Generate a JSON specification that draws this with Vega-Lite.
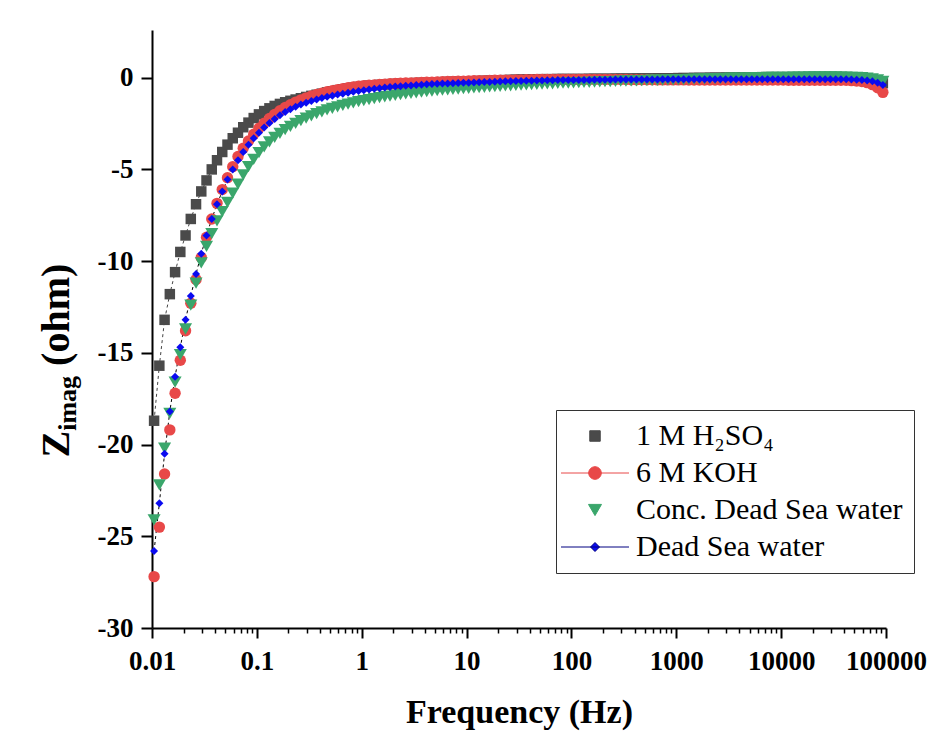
{
"$schema":"https://vega.github.io/schema/vega-lite/v6.json",
"width":734,"height":598,
"autosize":{"type":"none"},
"padding":{"left":152,"top":30,"right":58,"bottom":114},
"background":"white",
"config":{"view":{"stroke":null},"font":"Liberation Serif",
"axis":{"labelFont":"Liberation Serif","labelFontWeight":"bold","labelFontSize":27,"labelColor":"#000","tickColor":"#000","domainColor":"#000","domainWidth":2,"tickWidth":2,"grid":false,"titleFont":"Liberation Serif","titleFontWeight":"bold","titleColor":"#000"},
"legend":{"orient":"none","legendX":404,"legendY":380,"strokeColor":"#333","fillColor":"white","padding":11,"rowPadding":7,"labelFont":"Liberation Serif","labelFontSize":30,"labelFontWeight":"normal","labelColor":"#000","labelLimit":400,"symbolOffset":13,"labelOffset":26,"symbolSize":400,"symbolStrokeWidth":1,"symbolOpacity":1}},
"datasets":{
"A":[{"f":0.01047,"z":-18.7},{"f":0.01175,"z":-15.7},{"f":0.01318,"z":-13.2},{"f":0.01479,"z":-11.8},{"f":0.0166,"z":-10.6},{"f":0.01862,"z":-9.5},{"f":0.02089,"z":-8.6},{"f":0.02344,"z":-7.7},{"f":0.0263,"z":-6.9},{"f":0.02951,"z":-6.2},{"f":0.03311,"z":-5.6},{"f":0.03715,"z":-5.0},{"f":0.04169,"z":-4.5},{"f":0.04677,"z":-4.05},{"f":0.05248,"z":-3.65},{"f":0.05888,"z":-3.3},{"f":0.06607,"z":-3.0},{"f":0.07413,"z":-2.7},{"f":0.08318,"z":-2.45},{"f":0.09333,"z":-2.2},
{"f":0.1047,"z":-2.0},{"f":0.1175,"z":-1.82},{"f":0.1318,"z":-1.67},{"f":0.1479,"z":-1.54},{"f":0.166,"z":-1.43},{"f":0.1862,"z":-1.34},{"f":0.2089,"z":-1.26},{"f":0.2344,"z":-1.19},{"f":0.263,"z":-1.12},{"f":0.2951,"z":-1.05},{"f":0.3311,"z":-0.99},{"f":0.3715,"z":-0.93},{"f":0.4169,"z":-0.87},{"f":0.4677,"z":-0.8},{"f":0.5248,"z":-0.74},{"f":0.5888,"z":-0.68},{"f":0.6607,"z":-0.63},{"f":0.7413,"z":-0.58},{"f":0.8318,"z":-0.54},{"f":0.9333,"z":-0.5},
{"f":1.047,"z":-0.46},{"f":1.175,"z":-0.43},{"f":1.318,"z":-0.41},{"f":1.479,"z":-0.39},{"f":1.66,"z":-0.37},{"f":1.862,"z":-0.35},{"f":2.089,"z":-0.34},{"f":2.344,"z":-0.32},{"f":2.63,"z":-0.31},{"f":2.951,"z":-0.3},{"f":3.311,"z":-0.29},{"f":3.715,"z":-0.28},{"f":4.169,"z":-0.27},{"f":4.677,"z":-0.26},{"f":5.248,"z":-0.25},{"f":5.888,"z":-0.24},{"f":6.607,"z":-0.23},{"f":7.413,"z":-0.22},{"f":8.318,"z":-0.21},{"f":9.333,"z":-0.21},
{"f":10.47,"z":-0.2},{"f":11.75,"z":-0.19},{"f":13.18,"z":-0.18},{"f":14.79,"z":-0.17},{"f":16.6,"z":-0.16},{"f":18.62,"z":-0.15},{"f":20.89,"z":-0.14},{"f":23.44,"z":-0.13},{"f":26.3,"z":-0.12},{"f":29.51,"z":-0.11},{"f":33.11,"z":-0.1},{"f":37.15,"z":-0.1},{"f":41.69,"z":-0.09},{"f":46.77,"z":-0.09},{"f":52.48,"z":-0.08},{"f":58.88,"z":-0.08},{"f":66.07,"z":-0.08},{"f":74.13,"z":-0.07},{"f":83.18,"z":-0.07},{"f":93.33,"z":-0.07},
{"f":104.7,"z":-0.07},{"f":117.5,"z":-0.07},{"f":131.8,"z":-0.07},{"f":147.9,"z":-0.06},{"f":166,"z":-0.06},{"f":186.2,"z":-0.06},{"f":208.9,"z":-0.06},{"f":234.4,"z":-0.06},{"f":263,"z":-0.05},{"f":295.1,"z":-0.05},{"f":331.1,"z":-0.05},{"f":371.5,"z":-0.05},{"f":416.9,"z":-0.04},{"f":467.7,"z":-0.04},{"f":524.8,"z":-0.04},{"f":588.8,"z":-0.04},{"f":660.7,"z":-0.03},{"f":741.3,"z":-0.03},{"f":831.8,"z":-0.03},{"f":933.3,"z":-0.03},
{"f":1047,"z":-0.02},{"f":1175,"z":-0.02},{"f":1318,"z":-0.02},{"f":1479,"z":-0.01},{"f":1660,"z":-0.01},{"f":1862,"z":-0.01},{"f":2089,"z":0},{"f":2344,"z":0},{"f":2630,"z":0},{"f":2951,"z":0.01},{"f":3311,"z":0.01},{"f":3715,"z":0.01},{"f":4169,"z":0.02},{"f":4677,"z":0.02},{"f":5248,"z":0.02},{"f":5888,"z":0.02},{"f":6607,"z":0.03},{"f":7413,"z":0.03},{"f":8318,"z":0.03},{"f":9333,"z":0.03},
{"f":10470,"z":0.03},{"f":11750,"z":0.03},{"f":13180,"z":0.03},{"f":14790,"z":0.03},{"f":16600,"z":0.03},{"f":18620,"z":0.03},{"f":20890,"z":0.03},{"f":23440,"z":0.03},{"f":26300,"z":0.03},{"f":29510,"z":0.03},{"f":33110,"z":0.03},{"f":37150,"z":0.03},{"f":41690,"z":0.03},{"f":46770,"z":0.02},{"f":52480,"z":0.01},{"f":58880,"z":-0.01},{"f":66070,"z":-0.05},{"f":74130,"z":-0.1},{"f":83180,"z":-0.18},{"f":93330,"z":-0.3}],
"B":[{"f":0.01047,"z":-27.2},{"f":0.01175,"z":-24.5},{"f":0.01318,"z":-21.6},{"f":0.01479,"z":-19.2},{"f":0.0166,"z":-17.2},{"f":0.01862,"z":-15.4},{"f":0.02089,"z":-13.8},{"f":0.02344,"z":-12.3},{"f":0.0263,"z":-11.0},{"f":0.02951,"z":-9.8},{"f":0.03311,"z":-8.7},{"f":0.03715,"z":-7.7},{"f":0.04169,"z":-6.85},{"f":0.04677,"z":-6.1},{"f":0.05248,"z":-5.45},{"f":0.05888,"z":-4.85},{"f":0.06607,"z":-4.3},{"f":0.07413,"z":-3.85},{"f":0.08318,"z":-3.45},{"f":0.09333,"z":-3.08},
{"f":0.1047,"z":-2.76},{"f":0.1175,"z":-2.48},{"f":0.1318,"z":-2.22},{"f":0.1479,"z":-2.0},{"f":0.166,"z":-1.8},{"f":0.1862,"z":-1.62},{"f":0.2089,"z":-1.47},{"f":0.2344,"z":-1.33},{"f":0.263,"z":-1.21},{"f":0.2951,"z":-1.1},{"f":0.3311,"z":-1.0},{"f":0.3715,"z":-0.92},{"f":0.4169,"z":-0.84},{"f":0.4677,"z":-0.77},{"f":0.5248,"z":-0.71},{"f":0.5888,"z":-0.65},{"f":0.6607,"z":-0.6},{"f":0.7413,"z":-0.55},{"f":0.8318,"z":-0.51},{"f":0.9333,"z":-0.47},
{"f":1.047,"z":-0.43},{"f":1.175,"z":-0.41},{"f":1.318,"z":-0.39},{"f":1.479,"z":-0.37},{"f":1.66,"z":-0.35},{"f":1.862,"z":-0.33},{"f":2.089,"z":-0.32},{"f":2.344,"z":-0.3},{"f":2.63,"z":-0.29},{"f":2.951,"z":-0.28},{"f":3.311,"z":-0.27},{"f":3.715,"z":-0.26},{"f":4.169,"z":-0.25},{"f":4.677,"z":-0.24},{"f":5.248,"z":-0.23},{"f":5.888,"z":-0.22},{"f":6.607,"z":-0.21},{"f":7.413,"z":-0.2},{"f":8.318,"z":-0.19},{"f":9.333,"z":-0.19},
{"f":10.47,"z":-0.18},{"f":11.75,"z":-0.17},{"f":13.18,"z":-0.16},{"f":14.79,"z":-0.16},{"f":16.6,"z":-0.15},{"f":18.62,"z":-0.14},{"f":20.89,"z":-0.14},{"f":23.44,"z":-0.13},{"f":26.3,"z":-0.13},{"f":29.51,"z":-0.12},{"f":33.11,"z":-0.12},{"f":37.15,"z":-0.11},{"f":41.69,"z":-0.11},{"f":46.77,"z":-0.1},{"f":52.48,"z":-0.1},{"f":58.88,"z":-0.1},{"f":66.07,"z":-0.09},{"f":74.13,"z":-0.09},{"f":83.18,"z":-0.09},{"f":93.33,"z":-0.09},
{"f":104.7,"z":-0.09},{"f":117.5,"z":-0.09},{"f":131.8,"z":-0.09},{"f":147.9,"z":-0.09},{"f":166,"z":-0.09},{"f":186.2,"z":-0.1},{"f":208.9,"z":-0.1},{"f":234.4,"z":-0.1},{"f":263,"z":-0.1},{"f":295.1,"z":-0.1},{"f":331.1,"z":-0.1},{"f":371.5,"z":-0.11},{"f":416.9,"z":-0.11},{"f":467.7,"z":-0.11},{"f":524.8,"z":-0.11},{"f":588.8,"z":-0.11},{"f":660.7,"z":-0.12},{"f":741.3,"z":-0.12},{"f":831.8,"z":-0.12},{"f":933.3,"z":-0.12},
{"f":1047,"z":-0.12},{"f":1175,"z":-0.12},{"f":1318,"z":-0.13},{"f":1479,"z":-0.13},{"f":1660,"z":-0.13},{"f":1862,"z":-0.13},{"f":2089,"z":-0.13},{"f":2344,"z":-0.13},{"f":2630,"z":-0.13},{"f":2951,"z":-0.13},{"f":3311,"z":-0.13},{"f":3715,"z":-0.13},{"f":4169,"z":-0.13},{"f":4677,"z":-0.13},{"f":5248,"z":-0.13},{"f":5888,"z":-0.13},{"f":6607,"z":-0.13},{"f":7413,"z":-0.13},{"f":8318,"z":-0.13},{"f":9333,"z":-0.13},
{"f":10470,"z":-0.13},{"f":11750,"z":-0.14},{"f":13180,"z":-0.14},{"f":14790,"z":-0.14},{"f":16600,"z":-0.14},{"f":18620,"z":-0.14},{"f":20890,"z":-0.14},{"f":23440,"z":-0.14},{"f":26300,"z":-0.14},{"f":29510,"z":-0.14},{"f":33110,"z":-0.14},{"f":37150,"z":-0.14},{"f":41690,"z":-0.14},{"f":46770,"z":-0.16},{"f":52480,"z":-0.18},{"f":58880,"z":-0.21},{"f":66070,"z":-0.27},{"f":74130,"z":-0.38},{"f":83180,"z":-0.55},{"f":93330,"z":-0.8}],
"C":[{"f":0.01047,"z":-24.1},{"f":0.01175,"z":-22.2},{"f":0.01318,"z":-20.2},{"f":0.01479,"z":-18.3},{"f":0.0166,"z":-16.6},{"f":0.01862,"z":-15.1},{"f":0.02089,"z":-13.7},{"f":0.02344,"z":-12.4},{"f":0.0263,"z":-11.2},{"f":0.02951,"z":-10.1},{"f":0.03311,"z":-9.2},{"f":0.03715,"z":-8.5},{"f":0.04169,"z":-7.8},{"f":0.04677,"z":-7.3},{"f":0.05248,"z":-6.8},{"f":0.05888,"z":-6.3},{"f":0.06607,"z":-5.8},{"f":0.07413,"z":-5.3},{"f":0.08318,"z":-4.85},{"f":0.09333,"z":-4.45},
{"f":0.1047,"z":-4.08},{"f":0.1175,"z":-3.77},{"f":0.1318,"z":-3.5},{"f":0.1479,"z":-3.25},{"f":0.166,"z":-3.03},{"f":0.1862,"z":-2.83},{"f":0.2089,"z":-2.65},{"f":0.2344,"z":-2.49},{"f":0.263,"z":-2.34},{"f":0.2951,"z":-2.2},{"f":0.3311,"z":-2.08},{"f":0.3715,"z":-1.96},{"f":0.4169,"z":-1.86},{"f":0.4677,"z":-1.76},{"f":0.5248,"z":-1.67},{"f":0.5888,"z":-1.59},{"f":0.6607,"z":-1.51},{"f":0.7413,"z":-1.44},{"f":0.8318,"z":-1.37},{"f":0.9333,"z":-1.31},
{"f":1.047,"z":-1.25},{"f":1.175,"z":-1.19},{"f":1.318,"z":-1.14},{"f":1.479,"z":-1.09},{"f":1.66,"z":-1.04},{"f":1.862,"z":-1.0},{"f":2.089,"z":-0.96},{"f":2.344,"z":-0.92},{"f":2.63,"z":-0.88},{"f":2.951,"z":-0.85},{"f":3.311,"z":-0.82},{"f":3.715,"z":-0.79},{"f":4.169,"z":-0.76},{"f":4.677,"z":-0.73},{"f":5.248,"z":-0.71},{"f":5.888,"z":-0.68},{"f":6.607,"z":-0.66},{"f":7.413,"z":-0.64},{"f":8.318,"z":-0.62},{"f":9.333,"z":-0.6},
{"f":10.47,"z":-0.58},{"f":11.75,"z":-0.56},{"f":13.18,"z":-0.54},{"f":14.79,"z":-0.52},{"f":16.6,"z":-0.5},{"f":18.62,"z":-0.49},{"f":20.89,"z":-0.47},{"f":23.44,"z":-0.45},{"f":26.3,"z":-0.44},{"f":29.51,"z":-0.42},{"f":33.11,"z":-0.41},{"f":37.15,"z":-0.39},{"f":41.69,"z":-0.38},{"f":46.77,"z":-0.36},{"f":52.48,"z":-0.35},{"f":58.88,"z":-0.34},{"f":66.07,"z":-0.33},{"f":74.13,"z":-0.31},{"f":83.18,"z":-0.3},{"f":93.33,"z":-0.29},
{"f":104.7,"z":-0.28},{"f":117.5,"z":-0.27},{"f":131.8,"z":-0.26},{"f":147.9,"z":-0.25},{"f":166,"z":-0.24},{"f":186.2,"z":-0.23},{"f":208.9,"z":-0.22},{"f":234.4,"z":-0.21},{"f":263,"z":-0.2},{"f":295.1,"z":-0.19},{"f":331.1,"z":-0.18},{"f":371.5,"z":-0.17},{"f":416.9,"z":-0.17},{"f":467.7,"z":-0.16},{"f":524.8,"z":-0.15},{"f":588.8,"z":-0.14},{"f":660.7,"z":-0.14},{"f":741.3,"z":-0.13},{"f":831.8,"z":-0.12},{"f":933.3,"z":-0.12},
{"f":1047,"z":-0.11},{"f":1175,"z":-0.1},{"f":1318,"z":-0.09},{"f":1479,"z":-0.08},{"f":1660,"z":-0.08},{"f":1862,"z":-0.07},{"f":2089,"z":-0.06},{"f":2344,"z":-0.05},{"f":2630,"z":-0.05},{"f":2951,"z":-0.04},{"f":3311,"z":-0.03},{"f":3715,"z":-0.03},{"f":4169,"z":-0.02},{"f":4677,"z":-0.01},{"f":5248,"z":-0.01},{"f":5888,"z":0},{"f":6607,"z":0},{"f":7413,"z":0.01},{"f":8318,"z":0.01},{"f":9333,"z":0.02},
{"f":10470,"z":0.02},{"f":11750,"z":0.02},{"f":13180,"z":0.03},{"f":14790,"z":0.03},{"f":16600,"z":0.03},{"f":18620,"z":0.04},{"f":20890,"z":0.04},{"f":23440,"z":0.04},{"f":26300,"z":0.04},{"f":29510,"z":0.04},{"f":33110,"z":0.04},{"f":37150,"z":0.03},{"f":41690,"z":0.03},{"f":46770,"z":0.02},{"f":52480,"z":0.01},{"f":58880,"z":0},{"f":66070,"z":-0.03},{"f":74130,"z":-0.07},{"f":83180,"z":-0.12},{"f":93330,"z":-0.2}],
"D":[{"f":0.01047,"z":-25.8},{"f":0.01175,"z":-23.2},{"f":0.01318,"z":-20.5},{"f":0.01479,"z":-18.2},{"f":0.0166,"z":-16.3},{"f":0.01862,"z":-14.7},{"f":0.02089,"z":-13.2},{"f":0.02344,"z":-11.9},{"f":0.0263,"z":-10.7},{"f":0.02951,"z":-9.6},{"f":0.03311,"z":-8.6},{"f":0.03715,"z":-7.7},{"f":0.04169,"z":-6.9},{"f":0.04677,"z":-6.2},{"f":0.05248,"z":-5.55},{"f":0.05888,"z":-5.0},{"f":0.06607,"z":-4.5},{"f":0.07413,"z":-4.05},{"f":0.08318,"z":-3.65},{"f":0.09333,"z":-3.3},
{"f":0.1047,"z":-3.0},{"f":0.1175,"z":-2.72},{"f":0.1318,"z":-2.47},{"f":0.1479,"z":-2.25},{"f":0.166,"z":-2.05},{"f":0.1862,"z":-1.87},{"f":0.2089,"z":-1.72},{"f":0.2344,"z":-1.58},{"f":0.263,"z":-1.46},{"f":0.2951,"z":-1.36},{"f":0.3311,"z":-1.27},{"f":0.3715,"z":-1.19},{"f":0.4169,"z":-1.11},{"f":0.4677,"z":-1.04},{"f":0.5248,"z":-0.98},{"f":0.5888,"z":-0.92},{"f":0.6607,"z":-0.87},{"f":0.7413,"z":-0.82},{"f":0.8318,"z":-0.77},{"f":0.9333,"z":-0.72},
{"f":1.047,"z":-0.68},{"f":1.175,"z":-0.64},{"f":1.318,"z":-0.6},{"f":1.479,"z":-0.57},{"f":1.66,"z":-0.54},{"f":1.862,"z":-0.51},{"f":2.089,"z":-0.48},{"f":2.344,"z":-0.46},{"f":2.63,"z":-0.44},{"f":2.951,"z":-0.42},{"f":3.311,"z":-0.4},{"f":3.715,"z":-0.38},{"f":4.169,"z":-0.36},{"f":4.677,"z":-0.35},{"f":5.248,"z":-0.33},{"f":5.888,"z":-0.32},{"f":6.607,"z":-0.31},{"f":7.413,"z":-0.3},{"f":8.318,"z":-0.29},{"f":9.333,"z":-0.28},
{"f":10.47,"z":-0.27},{"f":11.75,"z":-0.26},{"f":13.18,"z":-0.25},{"f":14.79,"z":-0.24},{"f":16.6,"z":-0.23},{"f":18.62,"z":-0.22},{"f":20.89,"z":-0.21},{"f":23.44,"z":-0.2},{"f":26.3,"z":-0.19},{"f":29.51,"z":-0.18},{"f":33.11,"z":-0.18},{"f":37.15,"z":-0.17},{"f":41.69,"z":-0.16},{"f":46.77,"z":-0.15},{"f":52.48,"z":-0.15},{"f":58.88,"z":-0.14},{"f":66.07,"z":-0.14},{"f":74.13,"z":-0.13},{"f":83.18,"z":-0.13},{"f":93.33,"z":-0.12},
{"f":104.7,"z":-0.12},{"f":117.5,"z":-0.12},{"f":131.8,"z":-0.12},{"f":147.9,"z":-0.12},{"f":166,"z":-0.11},{"f":186.2,"z":-0.11},{"f":208.9,"z":-0.11},{"f":234.4,"z":-0.11},{"f":263,"z":-0.1},{"f":295.1,"z":-0.1},{"f":331.1,"z":-0.1},{"f":371.5,"z":-0.1},{"f":416.9,"z":-0.1},{"f":467.7,"z":-0.1},{"f":524.8,"z":-0.1},{"f":588.8,"z":-0.1},{"f":660.7,"z":-0.1},{"f":741.3,"z":-0.09},{"f":831.8,"z":-0.09},{"f":933.3,"z":-0.09},
{"f":1047,"z":-0.09},{"f":1175,"z":-0.09},{"f":1318,"z":-0.09},{"f":1479,"z":-0.09},{"f":1660,"z":-0.09},{"f":1862,"z":-0.09},{"f":2089,"z":-0.09},{"f":2344,"z":-0.09},{"f":2630,"z":-0.09},{"f":2951,"z":-0.09},{"f":3311,"z":-0.09},{"f":3715,"z":-0.09},{"f":4169,"z":-0.09},{"f":4677,"z":-0.09},{"f":5248,"z":-0.09},{"f":5888,"z":-0.09},{"f":6607,"z":-0.09},{"f":7413,"z":-0.09},{"f":8318,"z":-0.09},{"f":9333,"z":-0.09},
{"f":10470,"z":-0.09},{"f":11750,"z":-0.09},{"f":13180,"z":-0.09},{"f":14790,"z":-0.09},{"f":16600,"z":-0.09},{"f":18620,"z":-0.09},{"f":20890,"z":-0.09},{"f":23440,"z":-0.09},{"f":26300,"z":-0.09},{"f":29510,"z":-0.09},{"f":33110,"z":-0.09},{"f":37150,"z":-0.09},{"f":41690,"z":-0.09},{"f":46770,"z":-0.1},{"f":52480,"z":-0.11},{"f":58880,"z":-0.12},{"f":66070,"z":-0.15},{"f":74130,"z":-0.2},{"f":83180,"z":-0.28},{"f":93330,"z":-0.4}],
"L":[{"s":"1 M H₂SO₄"},{"s":"6 M KOH"},{"s":"Conc. Dead Sea water"},{"s":"Dead Sea water"}]
},
"resolve":{"axis":{"x":"independent","y":"independent"}},
"layer":[
{"data":{"name":"A"},"mark":{"type":"line","strokeDash":[3,3],"strokeWidth":1,"color":"#444"},
"encoding":{
"x":{"field":"f","type":"quantitative","scale":{"type":"log","domain":[0.01,100000],"nice":false},
"axis":{"orient":"bottom","values":[0.01,0.1,1,10,100,1000,10000,100000],"labelExpr":"'' + datum.value","tickSize":10,"labelPadding":10,"labelFlush":false,"labelOverlap":false,"title":"Frequency (Hz)","titleFontSize":34,"titleX":367,"titleY":94,"titleBaseline":"alphabetic","titleAlign":"center"}},
"y":{"field":"z","type":"quantitative","scale":{"domain":[-30,2.6],"nice":false,"zero":false},
"axis":{"orient":"left","values":[-30,-25,-20,-15,-10,-5,0],"labelExpr":"'' + datum.value","tickSize":11,"labelPadding":8,"title":"Z","titleFontSize":40,"titleAngle":270,"titleX":-84,"titleY":413.7,"titleAlign":"center","titleBaseline":"alphabetic"}}}},
{"data":{"name":"D"},"mark":{"type":"line","strokeDash":[3,3],"strokeWidth":1,"color":"#000"},
"encoding":{
"x":{"field":"f","type":"quantitative","scale":{"type":"log","domain":[0.01,100000],"nice":false},
"axis":{"orient":"bottom","values":[0.02,0.03,0.04,0.05,0.06,0.07,0.08,0.09,0.2,0.3,0.4,0.5,0.6,0.7,0.8,0.9,2,3,4,5,6,7,8,9,20,30,40,50,60,70,80,90,200,300,400,500,600,700,800,900,2000,3000,4000,5000,6000,7000,8000,9000,20000,30000,40000,50000,60000,70000,80000,90000],"labels":false,"tickSize":5,"tickWidth":1.5,"domain":false,"title":null}},
"y":{"field":"z","type":"quantitative","scale":{"domain":[-30,2.6],"nice":false,"zero":false},
"axis":{"orient":"left","labels":false,"ticks":false,"domain":false,"title":"imag","titleFontSize":26,"titleAngle":270,"titleX":-77,"titleY":372.9,"titleAlign":"center","titleBaseline":"alphabetic"}}}},
{"data":{"name":"A"},"mark":{"type":"point","filled":true,"opacity":1,"shape":"square","size":110,"color":"#4a4a4a"},
"encoding":{
"x":{"field":"f","type":"quantitative","scale":{"type":"log","domain":[0.01,100000],"nice":false},"axis":null},
"y":{"field":"z","type":"quantitative","scale":{"domain":[-30,2.6],"nice":false,"zero":false},
"axis":{"orient":"left","labels":false,"ticks":false,"domain":false,"title":"(ohm)","titleFontSize":40,"titleAngle":270,"titleX":-84,"titleY":284.3,"titleAlign":"center","titleBaseline":"alphabetic"}}}},
{"data":{"name":"B"},"mark":{"type":"point","filled":true,"opacity":1,"shape":"circle","size":130,"color":"#e84848"},
"encoding":{
"x":{"field":"f","type":"quantitative","scale":{"type":"log","domain":[0.01,100000],"nice":false},"axis":null},
"y":{"field":"z","type":"quantitative","scale":{"domain":[-30,2.6],"nice":false,"zero":false},"axis":null}}},
{"data":{"name":"C"},"mark":{"type":"point","filled":true,"opacity":1,"shape":"triangle-down","size":170,"color":"#3aa66b"},
"encoding":{
"x":{"field":"f","type":"quantitative","scale":{"type":"log","domain":[0.01,100000],"nice":false},"axis":null},
"y":{"field":"z","type":"quantitative","scale":{"domain":[-30,2.6],"nice":false,"zero":false},"axis":null}}},
{"data":{"name":"D"},"mark":{"type":"point","filled":true,"opacity":1,"shape":"diamond","size":64,"color":"#0a0af0"},
"encoding":{
"x":{"field":"f","type":"quantitative","scale":{"type":"log","domain":[0.01,100000],"nice":false},"axis":null},
"y":{"field":"z","type":"quantitative","scale":{"domain":[-30,2.6],"nice":false,"zero":false},"axis":null}}},
{"data":{"name":"L"},"mark":{"type":"point","filled":true,"clip":true,"strokeWidth":1,"size":400},
"encoding":{
"x":{"datum":0.001,"type":"quantitative","scale":{"type":"log","domain":[0.01,100000],"nice":false},"axis":null},
"y":{"datum":0,"type":"quantitative","scale":{"domain":[-30,2.6],"nice":false,"zero":false},"axis":null},
"fill":{"field":"s","type":"nominal","title":null,"scale":{"domain":["1 M H₂SO₄","6 M KOH","Conc. Dead Sea water","Dead Sea water"],"range":["#4a4a4a","#e84848","#3aa66b","#0a0af0"]}},
"stroke":{"field":"s","type":"nominal","title":null,"scale":{"domain":["1 M H₂SO₄","6 M KOH","Conc. Dead Sea water","Dead Sea water"],"range":["#4a4a4a","#e84848","#3aa66b","#000080"]}},
"shape":{"field":"s","type":"nominal","title":null,"scale":{"domain":["1 M H₂SO₄","6 M KOH","Conc. Dead Sea water","Dead Sea water"],"range":["M-0.525,-0.525H0.525V0.525H-0.525Z","M-3.4,0H3.4M0.63,0A0.63,0.63,0,1,1,-0.63,0A0.63,0.63,0,1,1,0.63,0Z","M-0.65,-0.56L0.65,-0.56L0,0.56Z","M-3.4,0H3.4M0,-0.45L0.45,0L0,0.45L-0.45,0Z"]}}}}
]
}
